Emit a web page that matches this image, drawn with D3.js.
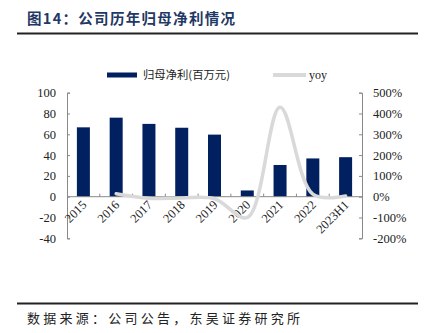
<!DOCTYPE html>
<html><head><meta charset="utf-8">
<script src="https://cdn.jsdelivr.net/npm/d3@7"></script>
<style>body{margin:0;background:#fff}svg{display:block}</style>
</head><body><svg id="c" width="429" height="333"></svg>
<script>
const categories = ["2015","2016","2017","2018","2019","2020","2021","2022","2023H1"];
const profit = [66.7, 76, 70, 66.3, 59.7, 6, 30.5, 36.8, 38];
const yoyCats = ["2016","2017","2018","2019","2020","2021","2022","2023H1"];
const yoy = [14, -8, -6, -10, -100, 430, 12, 3];
const leftTicks = [-40,-20,0,20,40,60,80,100];
const rightTicks = [-200,-100,0,100,200,300,400,500];
const titleText = "图14：公司历年归母净利情况";
const sourceText = "数据来源：公司公告，东吴证券研究所";
const legendLabels = ["归母净利(百万元)", "yoy"];

const svg = d3.select("#c");
const navy = "#002060", lineGray = "#d9d9d9", axisGray = "#898989";
const serif = "'Liberation Serif','Times New Roman',serif";
const cjk = "'Noto Sans CJK SC',sans-serif";

// title & rules
svg.append("text").attr("x",27).attr("y",24).attr("font-family",cjk).attr("font-weight","bold")
  .attr("font-size",14.5).attr("fill","#1f3864").attr("textLength",208).attr("lengthAdjust","spacing").text(titleText);
svg.append("line").attr("x1",17).attr("x2",418).attr("y1",33.5).attr("y2",33.5).attr("stroke","#222").attr("stroke-width",2);
svg.append("line").attr("x1",17).attr("x2",418).attr("y1",303.5).attr("y2",303.5).attr("stroke","#222").attr("stroke-width",2);
svg.append("text").attr("x",27).attr("y",323).attr("font-family",cjk).attr("font-size",13)
  .attr("fill","#222").attr("textLength",273).attr("lengthAdjust","spacing").text(sourceText);

const xc = d3.scaleBand().domain(categories).range([67,362]);
const yL = d3.scaleLinear().domain([-40,100]).range([238.3,92.7]);
const yR = d3.scaleLinear().domain([-200,500]).range([238.3,92.7]);

// bars
svg.append("g").selectAll("rect").data(categories).join("rect")
  .attr("x",d=>xc(d)+xc.bandwidth()/2-6.5).attr("width",13)
  .attr("y",(d,i)=>Math.min(yL(profit[i]),yL(0))).attr("height",(d,i)=>Math.abs(yL(profit[i])-yL(0)))
  .attr("fill",navy);

// axes
const gL = svg.append("g").attr("transform","translate(67,0)")
  .call(d3.axisRight(yL).tickValues(leftTicks).tickSize(3).tickFormat(d=>d));
gL.selectAll("text").remove();
gL.selectAll("path,line").attr("stroke",axisGray);
svg.append("g").selectAll("text").data(leftTicks).join("text")
  .attr("x",56).attr("y",d=>yL(d)+4.5).attr("text-anchor","end").attr("font-family",serif)
  .attr("font-size",12.5).attr("fill","#222").text(d=>d);

const gR = svg.append("g").attr("transform","translate(362,0)")
  .call(d3.axisLeft(yR).tickValues(rightTicks).tickSize(3).tickFormat(d=>d+"%"));
gR.selectAll("text").remove();
gR.selectAll("path,line").attr("stroke",axisGray);
svg.append("g").selectAll("text").data(rightTicks).join("text")
  .attr("x",373).attr("y",d=>yR(d)+4.5).attr("text-anchor","start").attr("font-family",serif)
  .attr("font-size",12.5).attr("fill","#222").text(d=>d+"%");

// category axis at zero
const zeroY = yL(0);
svg.append("line").attr("x1",67).attr("x2",362).attr("y1",zeroY).attr("y2",zeroY).attr("stroke",axisGray);
svg.append("g").selectAll("line").data(categories.slice(1)).join("line")
  .attr("x1",d=>xc(d)).attr("x2",d=>xc(d)).attr("y1",zeroY-3).attr("y2",zeroY).attr("stroke",axisGray);
svg.append("g").selectAll("text").data(categories).join("text")
  .attr("transform",d=>`translate(${xc(d)+xc.bandwidth()/2+4},${zeroY+9}) rotate(-45)`)
  .attr("text-anchor","end").attr("font-family",serif).attr("font-size",12.5).attr("fill","#222").text(d=>d);

// yoy line
const line = d3.line().x(d=>xc(d[0])+xc.bandwidth()/2).y(d=>yR(d[1])).curve(d3.curveCatmullRom.alpha(0.5));
svg.append("path").datum(yoyCats.map((c,i)=>[c,yoy[i]])).attr("d",line)
  .attr("fill","none").attr("stroke",lineGray).attr("stroke-width",3.5).attr("stroke-linecap","round");

// legend
svg.append("rect").attr("x",107).attr("y",72.5).attr("width",30).attr("height",5).attr("fill",navy);
svg.append("text").attr("x",143).attr("y",79).attr("font-family",cjk).attr("font-size",11).attr("fill","#222")
  .attr("textLength",87).attr("lengthAdjust","spacingAndGlyphs").text(legendLabels[0]);
svg.append("line").attr("x1",273).attr("x2",306).attr("y1",75).attr("y2",75).attr("stroke",lineGray).attr("stroke-width",4);
svg.append("text").attr("x",309).attr("y",79).attr("font-family",serif).attr("font-size",12).attr("fill","#222").text(legendLabels[1]);
</script></body></html>
